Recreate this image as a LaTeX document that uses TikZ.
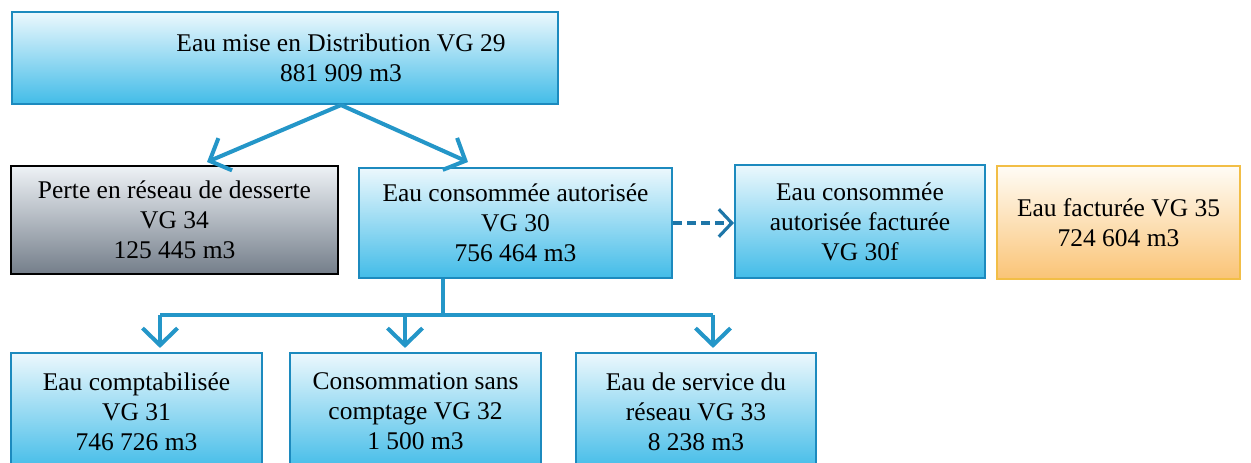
\documentclass[tikz,border=0pt]{standalone}
\usepackage{fontspec}
\setmainfont{Liberation Serif}
\usepackage{xcolor}
\usetikzlibrary{arrows.meta,calc}

\definecolor{flowblue}{RGB}{36,150,200}
\definecolor{frameblue}{RGB}{28,138,190}
\definecolor{dashblue}{RGB}{30,118,168}
\definecolor{cyantop}{RGB}{236,248,253}
\definecolor{cyanbot}{RGB}{66,188,232}
\definecolor{orangetop}{RGB}{255,252,246}
\definecolor{orangebot}{RGB}{250,196,118}
\definecolor{orangeline}{RGB}{242,190,70}
\definecolor{greytop}{RGB}{238,242,246}
\definecolor{greybot}{RGB}{116,126,138}

\begin{document}
\begin{tikzpicture}[x=0.02cm,y=-0.02cm,
    txt/.style={font=\fontsize{14.5}{17}\selectfont,align=center,inner sep=0pt},
    bluebox/.style={txt,draw=frameblue,line width=1.2pt,top color=cyantop,bottom color=cyanbot},
    greybox/.style={txt,draw=black,line width=1.2pt,top color=greytop,bottom color=greybot},
    orangebox/.style={txt,draw=orangeline,line width=1.2pt,top color=orangetop,bottom color=orangebot},
    flow/.style={draw=flowblue,line width=2.3pt,-{Straight Barb[length=3.4mm,width=7mm]}},
    flowline/.style={draw=flowblue,line width=2.3pt},
    dashflow/.style={draw=dashblue,line width=1.8pt,dash pattern=on 5pt off 3pt,-{Straight Barb[length=2.6mm,width=5.5mm]}}]
    \useasboundingbox (0,0) rectangle (1251,463);
    \node[bluebox,minimum width=10.92cm,minimum height=1.84cm] (miseframe) at (285,58) {};
    \node[txt] (mise) at (341,58) {Eau mise en Distribution VG 29\\881 909 m3};
    \node[greybox,minimum width=6.54cm,minimum height=2.16cm] (perte) at (174.5,220) {Perte en réseau de desserte\\VG 34\\125 445 m3};
    \node[bluebox,minimum width=6.26cm,minimum height=2.2cm] (autorisee) at (515.5,223) {Eau consommée autorisée\\VG 30\\756 464 m3};
    \node[bluebox,minimum width=5cm,minimum height=2.26cm] (facturee) at (860,221.5) {Eau consommée\\autorisée facturée\\VG 30f};
    \node[orangebox,minimum width=4.86cm,minimum height=2.26cm] (factvg) at (1118.5,222.5) {Eau facturée VG 35\\724 604 m3};
    \node[bluebox,minimum width=5.02cm,minimum height=2.34cm] (comptab) at (136.5,411.5) {Eau comptabilisée\\VG 31\\746 726 m3};
    \node[bluebox,minimum width=5.02cm,minimum height=2.34cm] (sanscompt) at (415.5,411.5) {Consommation sans\\comptage VG 32\\1 500 m3};
    \node[bluebox,minimum width=4.8cm,minimum height=2.34cm] (service) at (696,411.5) {Eau de service du\\réseau VG 33\\8 238 m3};
    % split below the top box
    \coordinate (apex) at (mise |- miseframe.south);
    \coordinate (tipL) at (207,162);
    \coordinate (tipR) at (468,162);
    \draw[flow] (apex) -- (tipL);
    \draw[flow] (apex) -- (tipR);
    \draw[dashflow] (autorisee.east) -- (autorisee.east -| facturee.west);
    % tree under VG 30
    \coordinate (trunk) at (443,315);
    \coordinate (busL) at (160,315);
    \coordinate (busM) at (405,315);
    \coordinate (busR) at (713,315);
    \draw[flowline] (autorisee.south -| trunk) -- (trunk);
    \draw[flowline] (busL) -- (busR);
    \draw[flow] (busL) -- ($(busL |- comptab.north)+(0,-4)$);
    \draw[flow] (busM) -- ($(busM |- sanscompt.north)+(0,-4)$);
    \draw[flow] (busR) -- ($(busR |- service.north)+(0,-4)$);
\end{tikzpicture}
\end{document}
